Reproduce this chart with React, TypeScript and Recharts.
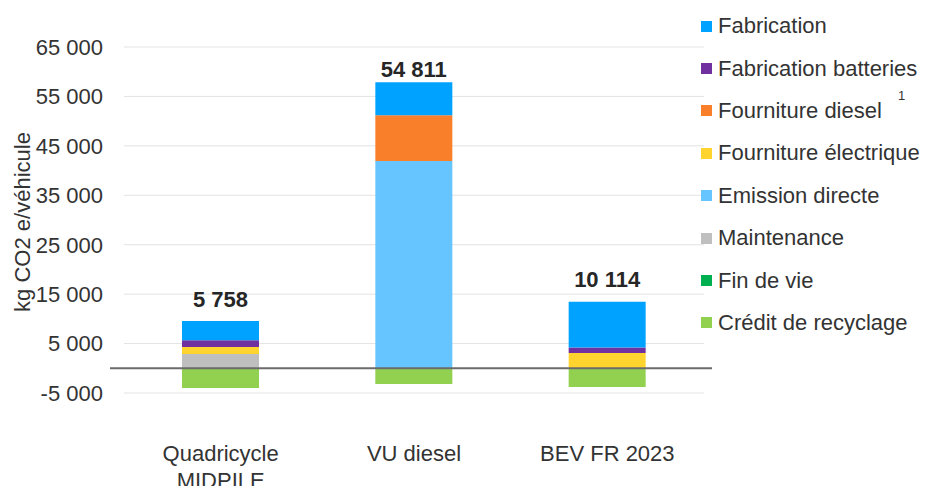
import React from 'react'
import {
  BarChart,
  Bar,
  XAxis,
  YAxis,
  CartesianGrid,
  Legend,
  LabelList,
  ReferenceLine,
  Label,
  Text,
} from 'recharts'

const categories = ['Quadricycle MIDPILE', 'VU diesel', 'BEV FR 2023']

const fabrication = [3900, 6650, 9250]
const fabricationBatteries = [1350, 0, 1100]
const fournitureDiesel = [0, 9250, 0]
const fournitureElectrique = [1400, 0, 3100]
const emissionDirecte = [0, 41950, 0]
const maintenance = [2900, 0, 0]
const finDeVie = [0, 0, 0]
const creditRecyclage = [-4000, -3200, -3800]

const totals = [5758, 54811, 10114]

const yTicks = [-5000, 5000, 15000, 25000, 35000, 45000, 55000, 65000]

// bottom of the stack first
const series = [
  { key: 'creditRecyclage', name: 'Crédit de recyclage', color: '#92D050', values: creditRecyclage },
  { key: 'finDeVie', name: 'Fin de vie', color: '#00B050', values: finDeVie },
  { key: 'maintenance', name: 'Maintenance', color: '#BFBFBF', values: maintenance },
  { key: 'emissionDirecte', name: 'Emission directe', color: '#66C5FF', values: emissionDirecte },
  { key: 'fournitureElectrique', name: 'Fourniture électrique', color: '#FFD42E', values: fournitureElectrique },
  { key: 'fournitureDiesel', name: 'Fourniture diesel', color: '#F97F2A', values: fournitureDiesel },
  { key: 'fabricationBatteries', name: 'Fabrication batteries', color: '#7030A0', values: fabricationBatteries },
  { key: 'fabrication', name: 'Fabrication', color: '#00A2FF', values: fabrication },
]

const data = categories.map((name, i) => {
  const row: Record<string, string | number> = { name, total: totals[i] }
  series.forEach((s) => {
    row[s.key] = s.values[i]
  })
  return row
})

const FONT = '"Liberation Sans", Arial, sans-serif'
const TEXT = '#333333'
const FS = 22
// gap between the top of each bar and its total label
const labelGaps = [14, 5, 15]

const fmt = (v: number) => String(v).replace(/\B(?=(\d{3})+(?!\d))/g, ' ')

function CategoryTick(props: any) {
  const { x, y, payload } = props
  return (
    <Text
      x={x}
      y={y}
      width={140}
      textAnchor="middle"
      verticalAnchor="start"
      lineHeight={27}
      fontSize={FS}
      fontFamily={FONT}
      fill={TEXT}
    >
      {payload.value}
    </Text>
  )
}

function YTitle(props: any) {
  const vb = props.viewBox
  const cy = vb.y + vb.height / 2 + 2
  return (
    <text
      x={22}
      y={cy}
      transform={`rotate(-90, 22, ${cy})`}
      textAnchor="middle"
      dominantBaseline="central"
      fontSize={FS}
      fontFamily={FONT}
      fill={TEXT}
    >
      kg CO2 e/véhicule
    </text>
  )
}

function TotalLabel(props: any) {
  const { x, y, width, value } = props
  const i = totals.indexOf(Number(value))
  const gap = labelGaps[i] ?? 14
  return (
    <text
      x={Number(x) + Number(width) / 2}
      y={Number(y) - gap}
      textAnchor="middle"
      fontSize={FS}
      fontWeight="bold"
      fontFamily={FONT}
      fill="#262626"
    >
      {fmt(Number(value))}
    </text>
  )
}

function LegendBox() {
  const items = [...series].reverse()
  return (
    <div style={{ position: 'relative', fontFamily: FONT, fontSize: FS, color: TEXT }}>
      {items.map((s) => (
        <div
          key={s.key}
          style={{ position: 'relative', height: 42.4, display: 'flex', alignItems: 'center', whiteSpace: 'nowrap' }}
        >
          <span style={{ width: 11, height: 11, background: s.color, display: 'inline-block' }} />
          <span style={{ marginLeft: 6 }}>{s.name}</span>
          {s.key === 'fournitureDiesel' && (
            <span style={{ position: 'absolute', left: 197, top: -1, fontSize: 13, lineHeight: '13px' }}>1</span>
          )}
        </div>
      ))}
    </div>
  )
}

export default function App() {
  return (
    <div style={{ position: 'absolute', left: 0, top: 0, background: '#fff' }}>
      <BarChart
        width={928}
        height={486}
        data={data}
        stackOffset="sign"
        margin={{ top: 47, right: 224, bottom: 0, left: 0 }}
      >
        <CartesianGrid vertical={false} stroke="#E3E3E3" />
        <XAxis
          dataKey="name"
          axisLine={false}
          tickLine={false}
          tickSize={0}
          tickMargin={52}
          height={93}
          interval={0}
          tick={<CategoryTick />}
        />
        <YAxis
          width={124}
          domain={[-5000, 65000]}
          ticks={yTicks}
          axisLine={false}
          tickLine={false}
          tickSize={0}
          tickMargin={21}
          tickFormatter={fmt}
          tick={{ fontSize: FS, fontFamily: FONT, fill: TEXT }}
        >
          <Label content={<YTitle />} />
        </YAxis>
        <Legend
          layout="horizontal"
          verticalAlign="middle"
          align="center"
          wrapperStyle={{ left: 701, top: 5, width: 227 }}
          content={() => <LegendBox />}
        />
        {series.map((s) => (
          <Bar
            key={s.key}
            dataKey={s.key}
            name={s.name}
            stackId="a"
            fill={s.color}
            barSize={77}
            isAnimationActive={false}
          >
            {s.key === 'fabrication' && <LabelList dataKey="total" content={<TotalLabel />} />}
          </Bar>
        ))}
        <ReferenceLine
          y={0}
          ifOverflow="visible"
          shape={(p: any) => (
            <line x1={p.x1 - 14} y1={p.y1} x2={p.x2 + 8} y2={p.y2} stroke="#6B6B6B" strokeWidth={2} />
          )}
        />
      </BarChart>
    </div>
  )
}
